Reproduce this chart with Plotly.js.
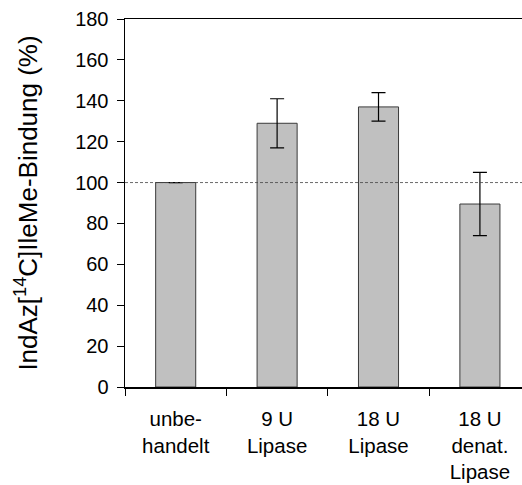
<!DOCTYPE html>
<html>
<head>
<meta charset="utf-8">
<script src="https://cdn.plot.ly/plotly-3.0.1.min.js"></script>
<style>
  html, body { margin: 0; padding: 0; background: #fff; }
  #chart { width: 522px; height: 485px; }
</style>
</head>
<body>
<div id="chart"></div>
<script>
// Treatment groups (x categories) and their tick labels
const categories = ['unbehandelt', '9 U Lipase', '18 U Lipase', '18 U denat. Lipase'];
const tickLabels = ['unbe-<br>handelt', '9 U<br>Lipase', '18 U<br>Lipase', '18 U<br>denat.<br>Lipase'];

// Relative binding (%) and standard deviations
const binding = [100, 129, 137, 89.5];
const errors = [0, 12, 7, 15.5];

// Reference level for the untreated control
const referenceLevel = 100;

const font = 'Liberation Sans, Arial, sans-serif';

const trace = {
  type: 'bar',
  x: categories,
  y: binding,
  width: 0.395,
  marker: { color: '#c0c0c0', line: { color: '#3a3a3a', width: 1 } },
  error_y: { type: 'data', array: errors, visible: true, color: '#000', thickness: 1.2, width: 7 },
  hoverinfo: 'none'
};

const layout = {
  width: 522,
  height: 485,
  margin: { l: 125, r: 0, t: 19, b: 98 },
  paper_bgcolor: '#fff',
  plot_bgcolor: '#fff',
  showlegend: false,
  font: { family: font, color: '#000' },
  xaxis: {
    type: 'category',
    range: [-0.5, 3.415],
    tickmode: 'array',
    tickvals: categories,
    ticktext: tickLabels,
    tickson: 'boundaries',
    ticks: 'outside',
    ticklen: 7,
    tickwidth: 1,
    tickcolor: '#000',
    ticklabelstandoff: 13,
    tickfont: { family: font, size: 20.5, color: '#000' },
    showline: true,
    linecolor: '#000',
    linewidth: 1.5,
    mirror: true,
    showgrid: false,
    zeroline: false,
    fixedrange: true
  },
  yaxis: {
    range: [0, 180],
    tickmode: 'linear',
    tick0: 0,
    dtick: 20,
    ticks: 'outside',
    ticklen: 7,
    tickwidth: 1,
    tickcolor: '#000',
    ticklabelstandoff: 4,
    tickfont: { family: font, size: 20, color: '#000' },
    showline: true,
    linecolor: '#000',
    linewidth: 1.5,
    showgrid: false,
    zeroline: false,
    fixedrange: true,
    title: {
      text: 'IndAz[<sup>14</sup>C]IleMe-Bindung (%)',
      font: { family: font, size: 26, color: '#000' },
      standoff: 30
    }
  },
  shapes: [{
    type: 'line',
    xref: 'paper',
    yref: 'y',
    x0: 0,
    x1: 1,
    y0: referenceLevel,
    y1: referenceLevel,
    layer: 'above',
    line: { color: '#444', width: 0.8, dash: '3px,2px' }
  }]
};

Plotly.newPlot('chart', [trace], layout, { staticPlot: true, displayModeBar: false });
</script>
</body>
</html>
